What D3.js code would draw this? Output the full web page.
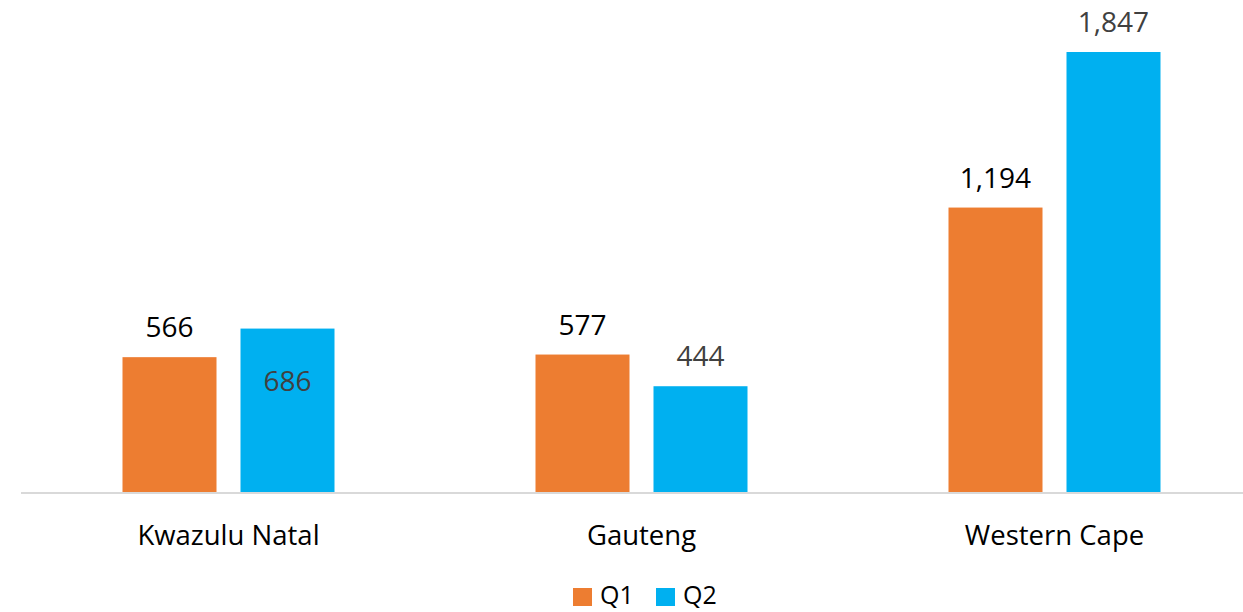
<!DOCTYPE html>
<html>
<head>
<meta charset="utf-8">
<script src="https://cdn.jsdelivr.net/npm/d3@7"></script>
<style>
  html, body { margin: 0; padding: 0; background: #fff; }
  svg { display: block; font-family: 'Open Sans', sans-serif; }
</style>
</head>
<body>
<div id="chart"></div>
<script>
// Data
const regions = ['Kwazulu Natal', 'Gauteng', 'Western Cape'];
const seriesNames = ['Q1', 'Q2'];
const q1Values = [566, 577, 1194];
const q2Values = [686, 444, 1847];
// labels that sit inside the bar instead of above it
const insideLabels = ['Kwazulu Natal|Q2'];

const colors = { Q1: '#ED7D31', Q2: '#00B0F0' };
const labelColors = { Q1: '#000000', Q2: '#404040' };

const width = 1243;
const height = 612;
const margin = { left: 22, right: -18, top: 52, baseline: 492 };

const svg = d3
  .select('#chart')
  .append('svg')
  .attr('width', width)
  .attr('height', height);

const rows = regions.map((r, i) => ({ region: r, Q1: q1Values[i], Q2: q2Values[i] }));

// Scales
const x0 = d3
  .scaleBand()
  .domain(regions)
  .range([margin.left, width - margin.right]);

const x1 = d3
  .scaleBand()
  .domain(seriesNames)
  .range([0, x0.bandwidth()])
  .paddingInner(0.2034)
  .paddingOuter(0.8517);

const y = d3
  .scaleLinear()
  .domain([0, d3.max(q2Values)])
  .range([margin.baseline, margin.top]);

// Bars
const groups = svg
  .selectAll('g.group')
  .data(rows)
  .enter()
  .append('g')
  .attr('class', 'group')
  .attr('transform', d => `translate(${x0(d.region)},0)`);

const cells = groups
  .selectAll('g.cell')
  .data(d => seriesNames.map(s => ({ region: d.region, key: s, value: d[s] })))
  .enter()
  .append('g')
  .attr('class', 'cell');

cells
  .append('rect')
  .attr('x', d => x1(d.key))
  .attr('y', d => y(d.value))
  .attr('width', x1.bandwidth())
  .attr('height', d => y(0) - y(d.value))
  .attr('fill', d => colors[d.key]);

cells
  .append('text')
  .attr('x', d => x1(d.key) + x1.bandwidth() / 2)
  .attr('y', d =>
    insideLabels.includes(`${d.region}|${d.key}`) ? y(d.value) + 62 : y(d.value) - 20
  )
  .attr('text-anchor', 'middle')
  .attr('font-size', '28px')
  .attr('fill', d => labelColors[d.key])
  .text(d => d3.format(',')(d.value));

// X-Axis line
svg
  .append('line')
  .attr('x1', margin.left - 1)
  .attr('x2', width)
  .attr('y1', y(0) + 1)
  .attr('y2', y(0) + 1)
  .attr('stroke', '#D9D9D9')
  .attr('stroke-width', 2);

// Category labels
svg
  .selectAll('text.cat')
  .data(regions)
  .enter()
  .append('text')
  .attr('class', 'cat')
  .attr('x', d => x0(d) + x0.bandwidth() / 2)
  .attr('y', 545)
  .attr('text-anchor', 'middle')
  .attr('font-size', '27.5px')
  .attr('fill', '#000')
  .text(d => d);

// Legend
const legend = svg.append('g').attr('transform', 'translate(573,588)');
const legendItems = legend
  .selectAll('g')
  .data(seriesNames)
  .enter()
  .append('g')
  .attr('transform', (d, i) => `translate(${i * 83},0)`);

legendItems
  .append('rect')
  .attr('width', 19)
  .attr('height', 18)
  .attr('fill', d => colors[d]);

legendItems
  .append('text')
  .attr('x', 27)
  .attr('y', 16)
  .attr('font-size', '25px')
  .attr('fill', '#000')
  .text(d => d);
</script>
</body>
</html>
